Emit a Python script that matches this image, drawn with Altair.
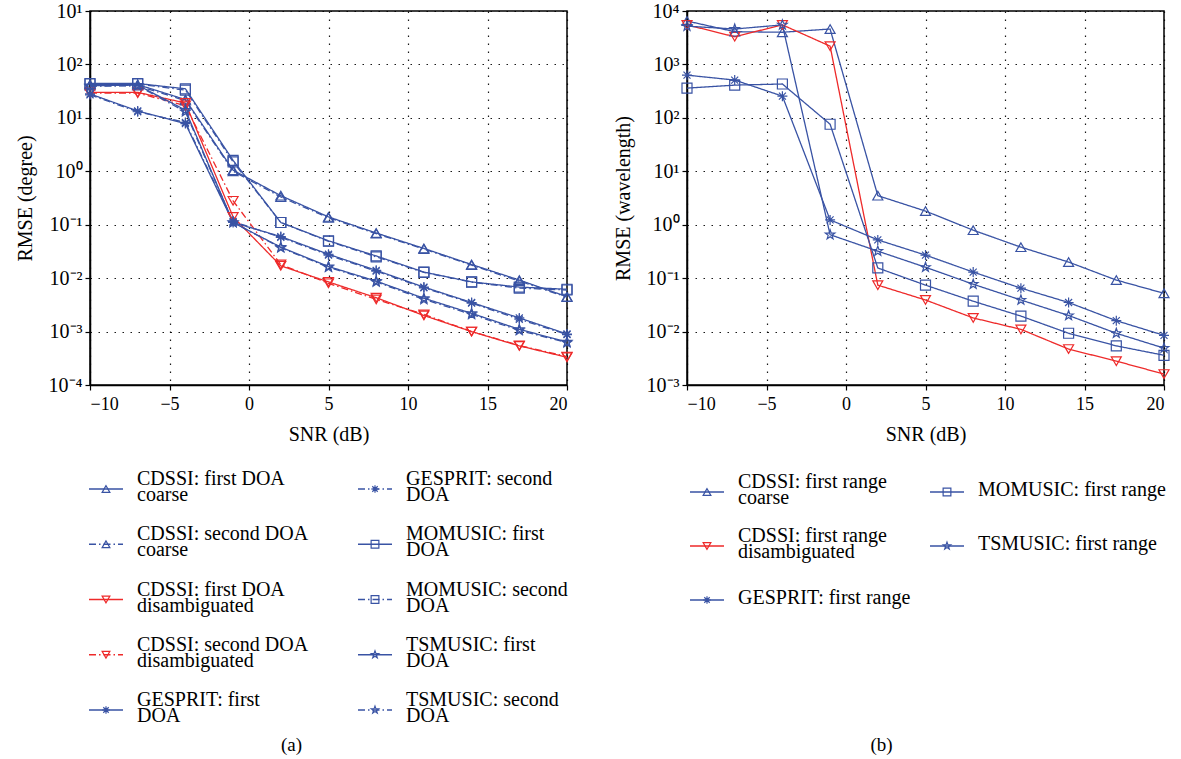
import json
import math
import altair as alt
import pandas as pd

SERIF = "Liberation Serif"
BLUE = "#3953a4"
RED = "#ee2a2a"

SNR = [-10, -7, -4, -1, 2, 5, 8, 11, 14, 17, 20]

# ---- Panel (a): RMSE (degree) ----
A_CDSSI_COARSE_1 = [42, 42, 22, 1.05, 0.35, 0.14, 0.07, 0.036, 0.018, 0.0092, 0.0045]
A_CDSSI_COARSE_2 = [40, 40, 21, 1.0, 0.33, 0.135, 0.068, 0.035, 0.0175, 0.0088, 0.0044]
A_CDSSI_DIS_1 = [30, 30, 19, 0.14, 0.017, 0.0085, 0.0043, 0.002, 0.001, 0.00054, 0.00033]
A_CDSSI_DIS_2 = [29, 29, 17, 0.28, 0.018, 0.008, 0.004, 0.0021, 0.001, 0.00055, 0.00034]
A_GESPRIT_1 = [28, 13.5, 7.8, 0.11, 0.06, 0.028, 0.014, 0.0068, 0.0035, 0.0018, 0.0009]
A_GESPRIT_2 = [27, 13, 8.2, 0.115, 0.058, 0.027, 0.0135, 0.0066, 0.0034, 0.0017, 0.00088]
A_MOMUSIC_1 = [44, 44, 35, 1.6, 0.11, 0.05, 0.026, 0.013, 0.0085, 0.0068, 0.0062]
A_MOMUSIC_2 = [43, 43, 33, 1.5, 0.11, 0.049, 0.025, 0.0128, 0.0084, 0.0065, 0.006]
A_TSMUSIC_1 = [40, 41, 14, 0.11, 0.038, 0.0165, 0.0088, 0.0042, 0.0022, 0.0011, 0.00064]
A_TSMUSIC_2 = [39, 40, 13, 0.11, 0.037, 0.016, 0.0085, 0.004, 0.0021, 0.00105, 0.00062]

A_TICKS = [1e-4, 1e-3, 1e-2, 1e-1, 1, 10, 100, 1000]
A_TICK_LABELS = ["10⁻⁴", "10⁻³", "10⁻²", "10⁻¹", "10⁰", "10¹", "10²", "10¹"]

# ---- Panel (b): RMSE (wavelength) ----
B_CDSSI_COARSE = [6500, 4100, 4000, 4600, 3.5, 1.8, 0.79, 0.38, 0.2, 0.092, 0.052]
B_CDSSI_DIS = [5500, 3300, 5500, 2200, 0.074, 0.039, 0.018, 0.011, 0.0047, 0.0028, 0.0016]
B_GESPRIT = [630, 510, 255, 1.23, 0.52, 0.27, 0.13, 0.065, 0.035, 0.016, 0.0085]
B_MOMUSIC = [360, 410, 430, 76, 0.155, 0.074, 0.037, 0.0195, 0.0093, 0.0054, 0.0036]
B_TSMUSIC = [5200, 4600, 5500, 0.65, 0.32, 0.16, 0.077, 0.039, 0.02, 0.0093, 0.0049]

B_TICKS = [1e-3, 1e-2, 1e-1, 1, 10, 100, 1000, 10000]
B_TICK_LABELS = ["10⁻³", "10⁻²", "10⁻¹", "10⁰", "10¹", "10²", "10³", "10⁴"]

X_TICKS = [-10, -5, 0, 5, 10, 15, 20]

GROUPS = ["CDSSI coarse", "CDSSI disambiguated", "GESPRIT", "MOMUSIC", "TSMUSIC"]
TARGETS = ["first", "second"]

A_LABELS = [
    "CDSSI: first DOA\ncoarse", "CDSSI: second DOA\ncoarse",
    "CDSSI: first DOA\ndisambiguated", "CDSSI: second DOA\ndisambiguated",
    "GESPRIT: first\nDOA", "GESPRIT: second\nDOA",
    "MOMUSIC: first\nDOA", "MOMUSIC: second\nDOA",
    "TSMUSIC: first\nDOA", "TSMUSIC: second\nDOA",
]
B_LABELS = [
    "CDSSI: first range\ncoarse", "CDSSI: first range\ndisambiguated",
    "GESPRIT: first range", "MOMUSIC: first range", "TSMUSIC: first range",
]

A_SERIES = [
    ("CDSSI coarse", "first", A_CDSSI_COARSE_1),
    ("CDSSI coarse", "second", A_CDSSI_COARSE_2),
    ("CDSSI disambiguated", "first", A_CDSSI_DIS_1),
    ("CDSSI disambiguated", "second", A_CDSSI_DIS_2),
    ("GESPRIT", "first", A_GESPRIT_1),
    ("GESPRIT", "second", A_GESPRIT_2),
    ("MOMUSIC", "first", A_MOMUSIC_1),
    ("MOMUSIC", "second", A_MOMUSIC_2),
    ("TSMUSIC", "first", A_TSMUSIC_1),
    ("TSMUSIC", "second", A_TSMUSIC_2),
]
B_SERIES = [
    ("CDSSI coarse", "first", B_CDSSI_COARSE),
    ("CDSSI disambiguated", "first", B_CDSSI_DIS),
    ("GESPRIT", "first", B_GESPRIT),
    ("MOMUSIC", "first", B_MOMUSIC),
    ("TSMUSIC", "first", B_TSMUSIC),
]

STAR = ("M0,-1L0.235,-0.324L0.951,-0.309L0.380,0.124L0.588,0.809L0,0.4"
        "L-0.588,0.809L-0.380,0.124L-0.951,-0.309L-0.235,-0.324Z")
ASTERISK = "M0,-1L0,1M-1,0L1,0M-0.7,-0.7L0.7,0.7M-0.7,0.7L0.7,-0.7"

color_scale = alt.Scale(domain=GROUPS, range=[BLUE, RED, BLUE, BLUE, BLUE])
shape_scale = alt.Scale(domain=GROUPS, range=["triangle-up", "triangle-down", ASTERISK, "square", STAR])
dash_scale = alt.Scale(domain=TARGETS, range=[[1, 0], [7, 3, 1.5, 3]])


def series_frame(series):
    rows = []
    for i, (grp, tgt, vals) in enumerate(series):
        for s, v in zip(SNR, vals):
            rows.append({"snr": s, "rmse": v, "group": grp, "target": tgt, "series": i})
    return pd.DataFrame(rows)


def legend_frame(series, labels, nrows):
    rows = []
    for i, ((grp, tgt, _), lab) in enumerate(zip(series, labels)):
        rows.append({"col": i // nrows, "row": i % nrows, "group": grp, "target": tgt,
                     "label": lab, "nlines": lab.count("\n") + 1})
    return pd.DataFrame(rows)


def panel(series, ticks, tick_labels, ytitle):
    df = series_frame(series)
    lo = round(math.log10(ticks[0]))
    label_expr = json.dumps(tick_labels, ensure_ascii=False) + f"[round(log(datum.value)/LN10) - ({lo})]"
    x = alt.X("snr:Q", scale=alt.Scale(domain=[-10, 20], nice=False, zero=False),
              axis=alt.Axis(values=X_TICKS, title="SNR (dB)", titlePadding=11, labelPadding=5))
    y = alt.Y("rmse:Q", scale=alt.Scale(type="log", domain=[ticks[0], ticks[-1]], nice=False),
              axis=alt.Axis(values=ticks, labelExpr=label_expr, title=ytitle, titlePadding=13,
                            labelPadding=3))
    color = alt.Color("group:N", scale=color_scale, legend=None)
    base = alt.Chart(df)
    lines = base.mark_line(strokeWidth=1.3, clip=True).encode(
        x=x, y=y, color=color,
        strokeDash=alt.StrokeDash("target:N", scale=dash_scale, legend=None),
        detail="series:N",
    )
    pts = base.mark_point(filled=False, size=100, strokeWidth=1.2, opacity=1).encode(
        x=x, y=y, color=color,
        shape=alt.Shape("group:N", scale=shape_scale, legend=None),
    )
    return alt.layer(lines, pts).properties(width=477, height=374)


def legend(series, labels, nrows, col_range, row_range, caption, cap_dx):
    df = legend_frame(series, labels, nrows)
    x = alt.X("col:Q", scale=alt.Scale(domain=[0, 1], range=col_range), axis=None)
    y = alt.Y("row:Q", scale=alt.Scale(domain=[0, nrows - 1], range=row_range), axis=None)
    color = alt.Color("group:N", scale=color_scale, legend=None)
    base = alt.Chart(df)
    rule = base.mark_rule(strokeWidth=1.3, xOffset=-17, x2Offset=17).encode(
        x=x, x2=alt.X2("col"), y=y, color=color,
        strokeDash=alt.StrokeDash("target:N", scale=dash_scale, legend=None),
    )
    pts = base.mark_point(filled=False, size=60, strokeWidth=1.2, opacity=1).encode(
        x=x, y=y, color=color,
        shape=alt.Shape("group:N", scale=shape_scale, legend=None),
    )
    text_style = dict(align="left", baseline="middle", dx=31, lineBreak="\n",
                      font=SERIF, fontSize=20, lineHeight=16, color="black")
    txt1 = base.transform_filter("datum.nlines == 1").mark_text(dy=-2, **text_style).encode(
        x=x, y=y, text="label:N",
    )
    txt2 = base.transform_filter("datum.nlines == 2").mark_text(dy=-10, **text_style).encode(
        x=x, y=y, text="label:N",
    )
    return alt.layer(rule, pts, txt1, txt2).properties(
        width=477, height=270,
        view=alt.ViewBackground(stroke="transparent"),
        title=alt.TitleParams(caption, orient="bottom", anchor="middle", dx=cap_dx, offset=4,
                              font=SERIF, fontSize=19, fontWeight="normal", color="black"),
    )


left = alt.vconcat(
    panel(A_SERIES, A_TICKS, A_TICK_LABELS, "RMSE (degree)"),
    legend(A_SERIES, A_LABELS, 5, [16, 285], [27, 248], "(a)", -37),
    spacing=16,
)
right = alt.vconcat(
    panel(B_SERIES, B_TICKS, B_TICK_LABELS, "RMSE (wavelength)"),
    legend(B_SERIES, B_LABELS, 3, [20, 260], [30, 138], "(b)", -44),
    spacing=16,
)

chart = alt.hconcat(left, right, spacing=36).properties(
    padding={"left": 14, "top": 0, "right": 5, "bottom": 0},
    background="white",
).configure_axis(
    labelFont=SERIF, labelColor="black",
    titleFont=SERIF, titleFontSize=20, titleFontWeight="normal", titleColor="black",
    domainColor="black", domainWidth=1.5, tickColor="black", tickWidth=1.2, tickSize=5,
    grid=True, gridColor="black", gridDash=[1.5, 6.5], gridWidth=1.2, gridOpacity=0.9,
).configure_axisX(labelFontSize=18).configure_axisY(labelFontSize=20).configure_view(
    stroke="black", strokeWidth=1.5
)

chart.save("out.html", embed_options={"renderer": "svg", "actions": False})
